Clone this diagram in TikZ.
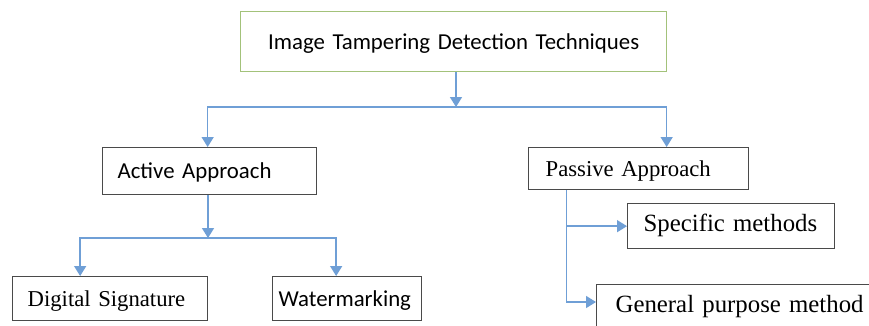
\documentclass[tikz,border=0pt]{standalone}
\usepackage{fontspec}
\setmainfont{Liberation Serif}
\newfontfamily\calibri{Carlito}
\usepackage{xcolor}
\usepackage{tikz}
\usetikzlibrary{positioning, arrows.meta}

\definecolor{linkblue}{HTML}{6F9FD6}
\definecolor{rootgreen}{HTML}{A3C27A}
\definecolor{boxgray}{HTML}{4A4A4A}

\begin{document}
\begin{tikzpicture}[
  x=1pt, y=-1pt,
  box/.style={draw=boxgray, line width=1.3pt, anchor=north west, align=left,
              inner ysep=0pt, text height=17pt, text depth=2pt},
  cal/.style={font=\calibri\fontsize{22.8}{27}\selectfont},
  tms/.style={font=\fontsize{22.7}{27}\selectfont},
  tmsbig/.style={font=\fontsize{24.8}{29}\selectfont,
                 text height=15pt, text depth=4.5pt},
  arr/.style={-{Triangle[width=12pt, length=10pt]}, line width=1.5pt, linkblue},
  link/.style={line width=1.5pt, linkblue}
]
\clip (0,0) rectangle (869,325);
\fill[white] (0,0) rectangle (869,325);
% top level
\node[box, cal, draw=rootgreen, align=center, text width=396pt, inner xsep=15pt,
      minimum height=60pt] (root) at (240,11) {Image Tampering Detection Techniques};
% two approaches
\node[box, cal, text width=184pt, inner xsep=15pt, minimum height=47pt]
  (active) at (102,147) {Active Approach};
\node[box, tms, text width=186pt, inner xsep=17pt, minimum height=42pt]
  (passive) at (528,147) {Passive Approach};
% active branch
\node[box, tms, text width=165pt, inner xsep=15pt, minimum height=44pt]
  (digital) at (12,276) {Digital Signature};
\node[box, cal, text width=137pt, inner xsep=6pt, minimum height=44pt]
  (water) at (272,276) {Watermarking};
% passive branch
\node[box, tmsbig, text width=175pt, inner xsep=16pt, minimum height=45pt]
  (specific) at (627,203) {Specific methods};
\node[box, tmsbig, text width=256pt, inner xsep=19pt, minimum height=45pt]
  (general) at (596,284) {General purpose method};

% root to approaches
\coordinate (rootsplit) at (456,107);
\draw[arr] (root.south -| rootsplit) -- (rootsplit);
\draw[arr] (rootsplit) -| ([xshift=-2pt]active.north);
\draw[arr] (rootsplit) -| ([xshift=28pt]passive.north);
% active to its methods
\coordinate (activesplit) at (208,238);
\draw[arr] (active.south -| activesplit) -- (activesplit);
\draw[arr] (activesplit) -| ([xshift=-30pt]digital.north);
\draw[arr] (activesplit) -| ([xshift=-11pt]water.north);
% passive to its methods
\coordinate (pstem) at ([xshift=-72pt]passive.south);
\draw[link] (pstem) -- (pstem |- 0,227);
\draw[arr] (pstem |- specific.west) -- (specific.west);
\draw[arr] (pstem) |- ([yshift=-18pt]general.north west);
\end{tikzpicture}
\end{document}
